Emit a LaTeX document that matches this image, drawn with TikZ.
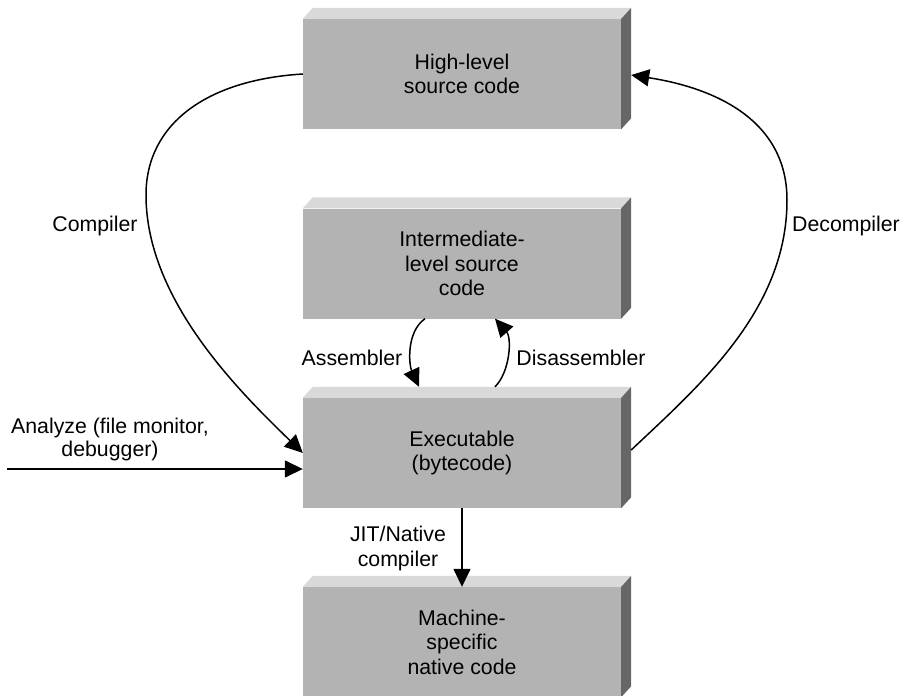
\documentclass[tikz,border=0pt]{standalone}
\usepackage{fontspec}
\setmainfont{Liberation Sans}
\usetikzlibrary{arrows.meta,calc}

\definecolor{frontgray}{RGB}{179,179,179}
\definecolor{topgray}{RGB}{217,217,217}
\definecolor{sidegray}{RGB}{102,102,102}

\tikzset{
  block/.style={fill=frontgray, minimum width=318pt, minimum height=110pt,
    inner sep=0pt, align=center, font=\fontsize{21.3}{24.5}\selectfont},
  lbl/.style={align=center, inner sep=0pt, font=\fontsize{21.3}{24}\selectfont},
  tip/.style={-{Triangle[length=18pt,width=17pt]}},
  conn/.style={line width=1.5pt, tip},
}

% top and right faces that give a block its depth
\newcommand\slabfaces[1]{%
  \fill[topgray] (#1.north west) -- ++(10,-11) -- ($(#1.north east)+(10,-11)$)
    -- (#1.north east) -- cycle;
  \fill[sidegray] (#1.north east) -- ++(10,-11) -- ($(#1.south east)+(10,-11)$)
    -- (#1.south east) -- cycle;
}

\begin{document}
\begin{tikzpicture}[x=1pt, y=-1pt]
  \path[use as bounding box] (0,0) rectangle (906,696);
  \clip (0,0) rectangle (906,696);

  % blocks
  \node[block] (hl) at (462,74)    {High-level\\source code};
  \node[block] (il) at (462,263.5) {Intermediate-\\level source\\code};
  \node[block] (ex) at (462,453)   {Executable\\(bytecode)};
  \node[block] (mc) at (462,642)   {Machine-\\specific\\native code};
  \slabfaces{hl}
  \slabfaces{il}
  \slabfaces{ex}
  \slabfaces{mc}

  % compiler / decompiler loops
  \draw[conn] (hl.west) .. controls (205,80) and (146,125) .. (146,195)
    .. controls (146,300) and (240,392) .. (ex.west);
  \draw[conn] ($(ex.east)+(10,-3)$) .. controls (700,385) and (787,310) .. (787,200)
    .. controls (787,120) and (715,88) .. ($(hl.east)+(10,1)$);

  % assembler / disassembler
  \draw[conn] ($(il.south)+(-37,0)$) .. controls (406,332) and (409,365)
    .. ($(ex.north)+(-43,-11)$);
  \draw[conn] ($(ex.north)+(33,-11)$) .. controls (510,372) and (512,338)
    .. ($(il.south)+(33,0)$);

  % JIT / native compilation
  \draw[conn] (ex.south) -- (mc.north);

  % analysis input
  \coordinate (an) at (7,469);
  \draw[conn] (an) -- (an -| ex.west);

  % labels
  \node[lbl] (lcomp)   at (95,226)  {Compiler};
  \node[lbl] (ldecomp) at (846,226) {Decompiler};
  \node[lbl] (lasm)    at (352,358) {Assembler};
  \node[lbl] (ldis)    at (581,358) {Disassembler};
  \node[lbl, font=\fontsize{21.3}{23}\selectfont] (lan) at (110,439)
    {Analyze (file monitor,\\debugger)};
  \node[lbl, font=\fontsize{21.3}{25}\selectfont] (ljit) at (398,548)
    {JIT/Native\\compiler};
\end{tikzpicture}
\end{document}
